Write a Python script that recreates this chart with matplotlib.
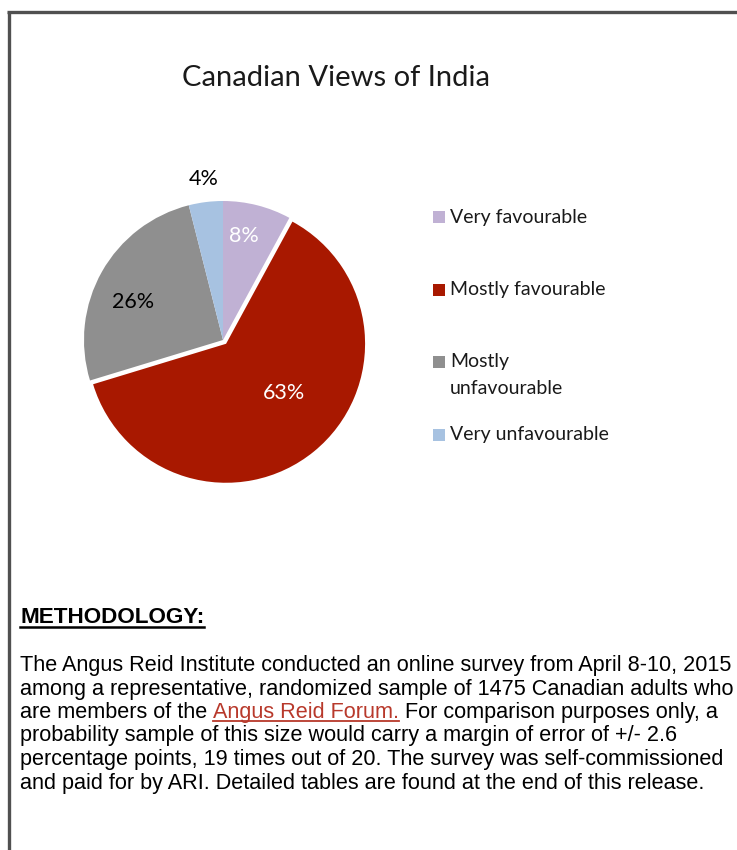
import matplotlib
matplotlib.use("Agg")
import matplotlib.pyplot as plt
from matplotlib.patches import Rectangle
from matplotlib.lines import Line2D

# ---- data ----
categories = ["Very favourable", "Mostly favourable", "Mostly unfavourable", "Very unfavourable"]
legend_labels = ["Very favourable", "Mostly favourable", "Mostly\nunfavourable", "Very unfavourable"]
values = [8, 63, 26, 4]
pct_labels = ["8%", "63%", "26%", "4%"]
colors = ["#C0B1D4", "#A81800", "#8F8F8F", "#A7C2E1"]
explode = [0, 0.035, 0, 0]
label_colors = ["white", "white", "black", "black"]
title = "Canadian Views of India"

heading = "METHODOLOGY:"
body_lines = [
    "The Angus Reid Institute conducted an online survey from April 8-10, 2015",
    "among a representative, randomized sample of 1475 Canadian adults who",
    None,
    "probability sample of this size would carry a margin of error of +/- 2.6",
    "percentage points, 19 times out of 20. The survey was self-commissioned",
    "and paid for by ARI. Detailed tables are found at the end of this release.",
]
line3_parts = [("are members of the ", "black", False),
               ("Angus Reid Forum.", "#B8392B", True),
               (" For comparison purposes only, a", "black", False)]

W, H = 737, 850
fig = plt.figure(figsize=(W / 100, H / 100), dpi=100)
fig.patch.set_facecolor("white")

def fx(px):
    return px / W

def fy(py):
    return 1 - py / H

# border lines (left and top)
fig.add_artist(Line2D([fx(8.5), fx(8.5)], [fy(11.5), fy(850)], color="#505050", lw=2.4,
                      transform=fig.transFigure, solid_capstyle="butt"))
fig.add_artist(Line2D([fx(7.3), fx(737)], [fy(11.5), fy(11.5)], color="#505050", lw=2.4,
                      transform=fig.transFigure, solid_capstyle="butt"))

chart_font = ["Lato", "DejaVu Sans"]
text_font = ["Liberation Sans", "DejaVu Sans"]

# title
fig.text(fx(336), fy(78), title, ha="center", va="center", fontsize=21, family=chart_font,
         color="#1a1a1a")

# pie
cx, cy, R = 223, 340, 139
ax = fig.add_axes([fx(cx - R), fy(cy + R), 2 * R / W, 2 * R / H])
wedges, _ = ax.pie(values, colors=colors, startangle=90, counterclock=False, explode=explode,
                   radius=1, wedgeprops=dict(linewidth=0))
ax.set_xlim(-1, 1)
ax.set_ylim(-1, 1)
ax.set_aspect("equal")
ax.axis("off")
for w in wedges:
    w.set_clip_on(False)

label_pos = [(0.15, 0.75), (0.44, -0.38), (-0.65, 0.27), (-0.14, 1.16)]
for (x, y), lab, c in zip(label_pos, pct_labels, label_colors):
    ax.text(x, y, lab, ha="center", va="center", fontsize=15.5, family=chart_font, color=c)

# legend
leg_rows = [217, 290, 362, 435]
for yrow, lab, col in zip(leg_rows, legend_labels, colors):
    fig.add_artist(Rectangle((fx(433), fy(yrow + 6)), 12 / W, 12 / H, facecolor=col,
                             edgecolor="none", transform=fig.transFigure))
    parts = lab.split("\n")
    for k, p in enumerate(parts):
        fig.text(fx(450), fy(yrow + 26 * k), p, ha="left", va="center", fontsize=14,
                 family=chart_font, color="#1a1a1a")

fig.canvas.draw()
renderer = fig.canvas.get_renderer()

# methodology
th = fig.text(fx(20), fy(623), heading, ha="left", va="baseline", fontsize=16.2,
              family=text_font, weight="bold", color="black")
fig.canvas.draw()
bb = th.get_window_extent(renderer)
fig.add_artist(Line2D([bb.x0 / W, bb.x1 / W], [fy(627), fy(627)], color="black", lw=1.8,
                      transform=fig.transFigure))

body_size = 15.55
line_y0, dy = 671, 23.5
for i, line in enumerate(body_lines):
    yb = line_y0 + i * dy
    if line is not None:
        fig.text(fx(20), fy(yb), line, ha="left", va="baseline", fontsize=body_size,
                 family=text_font, color="black")
    else:
        xcur = 20
        for txt, col, ul in line3_parts:
            t = fig.text(fx(xcur), fy(yb), txt, ha="left", va="baseline", fontsize=body_size,
                         family=text_font, color=col)
            fig.canvas.draw()
            bb = t.get_window_extent(renderer)
            if ul:
                yl = fy(yb + 3)
                fig.add_artist(Line2D([bb.x0 / W, bb.x1 / W], [yl, yl], color=col, lw=1.3,
                                      transform=fig.transFigure))
            xcur = bb.x1

fig.savefig("out.png", dpi=100)
